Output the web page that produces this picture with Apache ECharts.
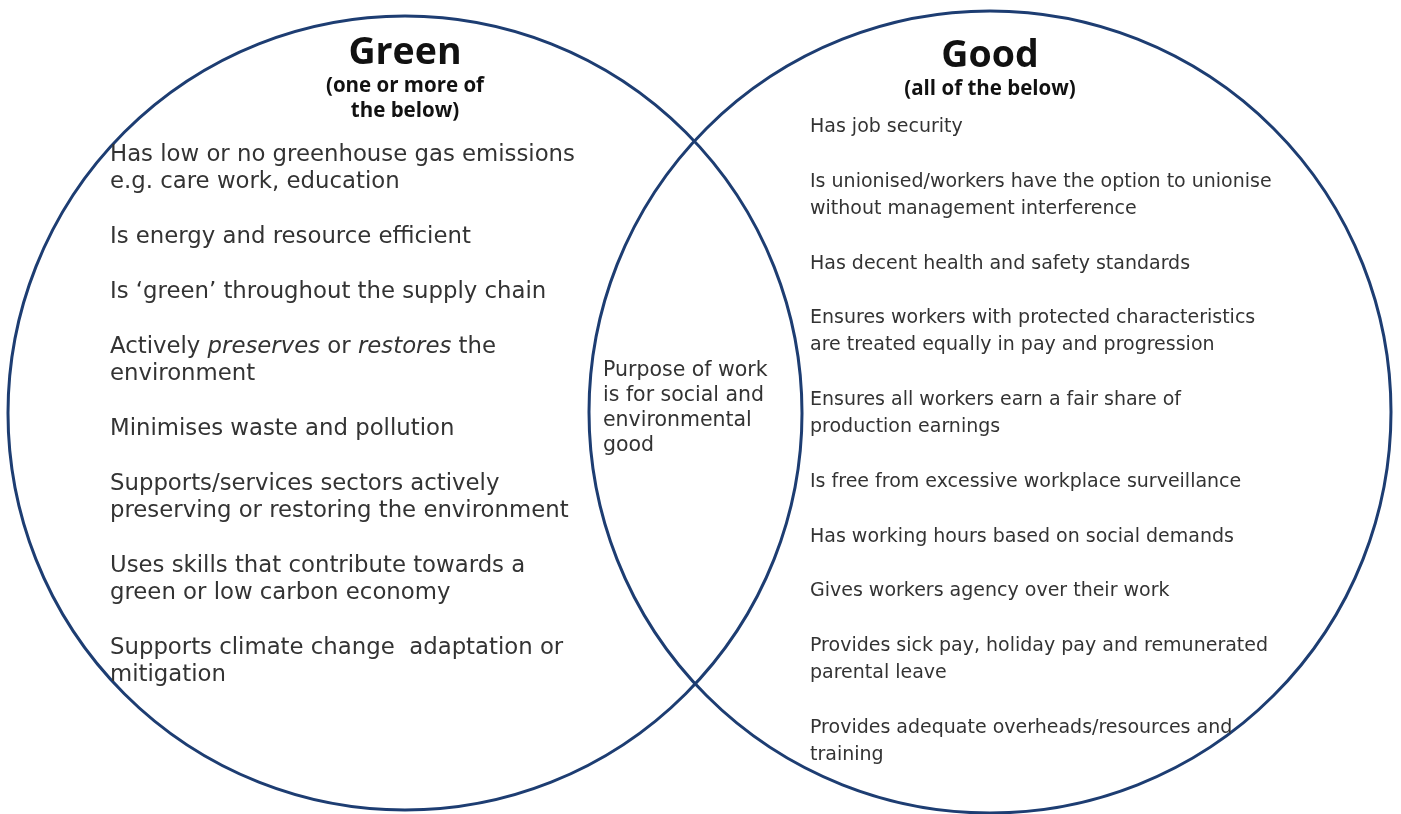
<!DOCTYPE html>
<html><head><meta charset="utf-8">
<script src="https://cdn.jsdelivr.net/npm/echarts@6/dist/echarts.min.js"></script>
<style>html,body{margin:0;padding:0;background:#fff}#c{width:1401px;height:814px}</style>
</head><body><div id="c"></div>
<script>
// ---- data ----
const setNames = ['Green', 'Good'];
const setSubtitles = ['(one or more of\nthe below)', '(all of the below)'];
const greenItems = [
  'Has low or no greenhouse gas emissions\ne.g. care work, education',
  'Is energy and resource efficient',
  'Is \u2018green\u2019 throughout the supply chain',
  'Actively {i|preserves} or {i|restores} the\nenvironment',
  'Minimises waste and pollution',
  'Supports/services sectors actively\npreserving or restoring the environment',
  'Uses skills that contribute towards a\ngreen or low carbon economy',
  'Supports climate change  adaptation or\nmitigation'
];
const goodItems = [
  'Has job security',
  'Is unionised/workers have the option to unionise\nwithout management interference',
  'Has decent health and safety standards',
  'Ensures workers with protected characteristics\nare treated equally in pay and progression',
  'Ensures all workers earn a fair share of\nproduction earnings',
  'Is free from excessive workplace surveillance',
  'Has working hours based on social demands',
  'Gives workers agency over their work',
  'Provides sick pay, holiday pay and remunerated\nparental leave',
  'Provides adequate overheads/resources and\ntraining'
];
const overlapItems = ['Purpose of work\nis for social and\nenvironmental\ngood'];

// ---- layout (diagram units = pixels of the reference) ----
const circles = [ {cx: 405, cy: 413, r: 397}, {cx: 990, cy: 412, r: 401} ];
const titleLayout = [ {x: 405, y: 53, subY: 86}, {x: 990, y: 56, subY: 89} ];
const listLayout = [
  {items: greenItems, x: 110, y0: 155, lh: 27.3, gap: 27.5, size: 22.8},
  {items: goodItems, x: 810, y0: 127, lh: 27.2, gap: 27.5, size: 19},
  {items: overlapItems, x: 603, y0: 371, lh: 25, gap: 0, size: 20.5}
];
const BODY_FONT = '"DejaVu Sans", sans-serif';
const TITLE_FONT = '"Open Sans", "Noto Sans", sans-serif';

// build line records
const lines = [];
listLayout.forEach((L, li) => {
  let y = L.y0;
  L.items.forEach(item => {
    item.split('\n').forEach(t => { lines.push({text: t, x: L.x, y: y, size: L.size}); y += L.lh; });
    y += L.gap;
  });
});

const chart = echarts.init(document.getElementById('c'), null, {renderer: 'canvas'});
chart.setOption({
  animation: false,
  grid: {left: 0, right: 0, top: 0, bottom: 0},
  xAxis: {type: 'value', min: 0, max: 1401, show: false},
  yAxis: {type: 'value', min: 0, max: 814, inverse: true, show: false},
  series: [
    {
      type: 'custom', name: 'sets', coordinateSystem: 'cartesian2d',
      data: setNames.map((n, i) => [circles[i].cx, circles[i].cy, circles[i].r]),
      renderItem: (params, api) => {
        const c = api.coord([api.value(0), api.value(1)]);
        const r = api.size([api.value(2), 0])[0];
        return {type: 'circle', shape: {cx: c[0], cy: c[1], r: r},
          style: {fill: 'none', stroke: '#1d3d72', lineWidth: 3}};
      }
    },
    {
      type: 'custom', name: 'titles', coordinateSystem: 'cartesian2d',
      data: setNames.map((n, i) => [titleLayout[i].x, titleLayout[i].y, titleLayout[i].subY]),
      renderItem: (params, api) => {
        const i = params.dataIndex;
        const p = api.coord([api.value(0), api.value(1)]);
        const s = api.coord([api.value(0), api.value(2)]);
        return {type: 'group', children: [
          {type: 'text', x: p[0], y: p[1], style: {text: setNames[i], fill: '#111',
            font: 'bold 37.5px ' + TITLE_FONT, align: 'center', verticalAlign: 'middle'}},
          {type: 'text', x: s[0], y: s[1] - 12.5, style: {text: setSubtitles[i], fill: '#111',
            font: 'bold 20.5px ' + TITLE_FONT, align: 'center', verticalAlign: 'top', lineHeight: 25}}
        ]};
      }
    },
    {
      type: 'custom', name: 'items', coordinateSystem: 'cartesian2d',
      data: lines.map(l => [l.x, l.y]),
      renderItem: (params, api) => {
        const l = lines[params.dataIndex];
        const p = api.coord([api.value(0), api.value(1)]);
        return {type: 'text', x: p[0], y: p[1], style: {
          text: l.text, fill: '#333', fontFamily: BODY_FONT, fontSize: l.size,
          align: 'left', verticalAlign: 'middle',
          rich: {i: {fontStyle: 'italic', fontFamily: BODY_FONT, fontSize: l.size, fill: '#333'}}
        }};
      }
    }
  ]
});
</script></body></html>
